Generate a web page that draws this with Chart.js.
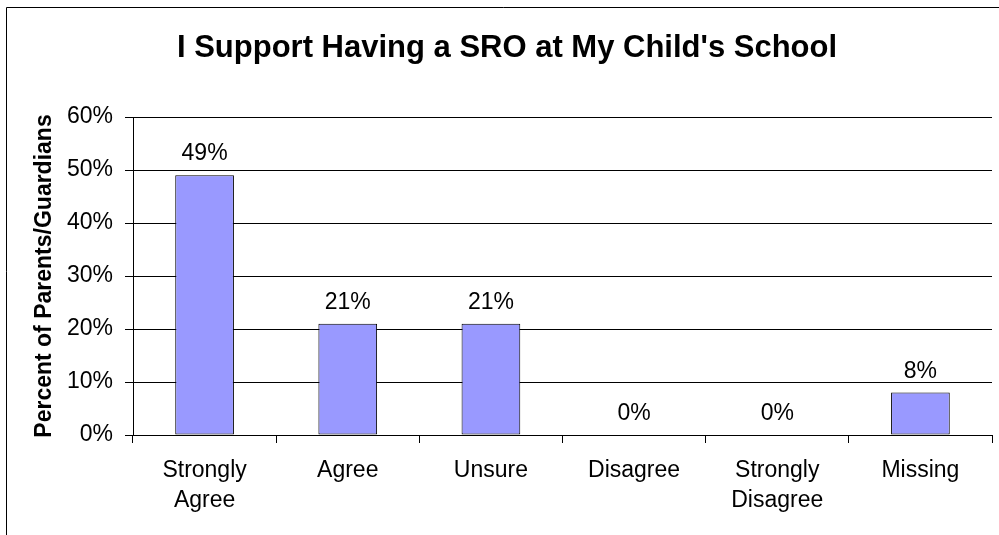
<!DOCTYPE html>
<html>
<head>
<meta charset="utf-8">
<script src="https://cdn.jsdelivr.net/npm/chart.js@4.4.1/dist/chart.umd.min.js"></script>
<style>
  html, body { margin: 0; padding: 0; background: #fff; }
  canvas { display: block; }
</style>
</head>
<body>
<canvas id="graficoSro" width="999" height="535"></canvas>
<script>
'use strict';
// dados do grafico
const categorias = [['Strongly', 'Agree'], 'Agree', 'Unsure', 'Disagree', ['Strongly', 'Disagree'], 'Missing'];
const percentuais = [49, 21, 21, 0, 0, 8];
const marcasY = [0, 10, 20, 30, 40, 50, 60];

const titulo = "I Support Having a SRO at My Child's School";
const tituloEixoY = 'Percent of Parents/Guardians';
const fonte = "'Liberation Sans', Arial, sans-serif";

// moldura + titulo + rotulos de valor em cima das barras
const extras = {
    id: 'extras',
    afterDraw(chart) {
        const c = chart.ctx;
        c.save();
        c.strokeStyle = '#000';
        c.lineWidth = 1;
        c.beginPath();
        c.moveTo(6.5, 600);
        c.lineTo(6.5, 7.5);
        c.lineTo(1000, 7.5);
        c.stroke();

        c.fillStyle = '#000';
        c.font = 'bold 31px ' + fonte;
        c.textAlign = 'center';
        c.textBaseline = 'alphabetic';
        c.fillText(titulo, 507, 57);

        c.font = '23px ' + fonte;
        const meta = chart.getDatasetMeta(0);
        meta.data.forEach((barra, i) => {
            c.fillText(percentuais[i] + '%', barra.x, barra.y - 15);
        });
        c.restore();
    }
};

const ctx = document.getElementById('graficoSro').getContext('2d');
const grafico = new Chart(ctx, {
    type: 'bar',
    plugins: [extras],
    data: {
        labels: categorias,
        datasets: [{
            data: percentuais,
            backgroundColor: '#9999FF',
            borderColor: '#000',
            borderWidth: 1,
            borderSkipped: false,
            barPercentage: 0.41,
            categoryPercentage: 1
        }]
    },
    options: {
        responsive: false,
        animation: false,
        layout: {
            padding: { left: 7, right: 7, top: 117, bottom: 0 }
        },
        scales: {
            x: {
                grid: {
                    offset: true,
                    drawOnChartArea: false,
                    drawTicks: true,
                    tickLength: 8,
                    color: '#000'
                },
                border: { color: '#000' },
                ticks: {
                    color: '#000',
                    padding: 13,
                    maxRotation: 0,
                    autoSkip: false,
                    font: { family: fonte, size: 23, lineHeight: 1.3 }
                },
                afterFit(scale) { scale.height = 100; }
            },
            y: {
                min: 0,
                max: 60,
                afterBuildTicks(scale) {
                    scale.ticks = marcasY.map(v => ({ value: v }));
                },
                grid: {
                    color: '#000',
                    tickLength: 8
                },
                border: { color: '#000' },
                ticks: {
                    color: '#000',
                    padding: 12,
                    font: { family: fonte, size: 23 },
                    callback: (v) => v + '%'
                },
                title: {
                    display: true,
                    text: tituloEixoY,
                    color: '#000',
                    padding: { top: 24, bottom: 0 },
                    font: { family: fonte, size: 23, weight: 'bold' }
                },
                afterFit(scale) { scale.width = 126; }
            }
        },
        plugins: {
            legend: { display: false },
            tooltip: { enabled: false }
        }
    }
});
</script>
</body>
</html>
